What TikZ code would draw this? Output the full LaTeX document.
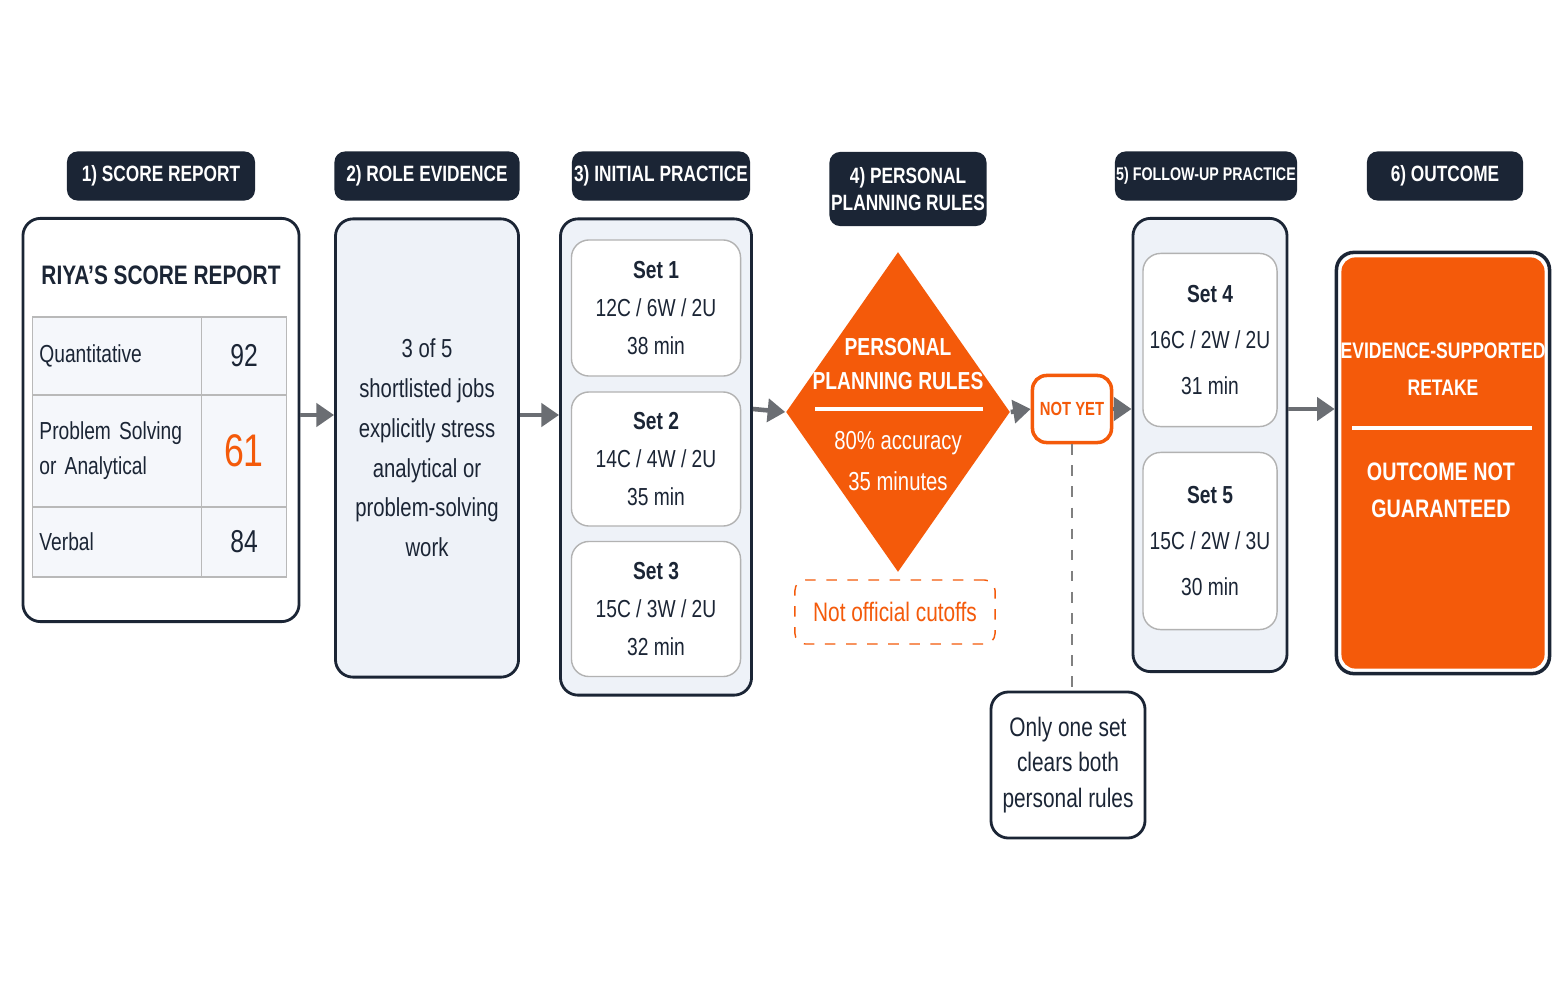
\documentclass[tikz,border=0pt]{standalone}
\usepackage{fontspec}
\setmainfont{Liberation Sans}[FakeStretch=0.78]
\usetikzlibrary{shapes,arrows,arrows.meta,positioning}
\definecolor{navy}{HTML}{1B2535}
\definecolor{hot}{HTML}{F45A0A}
\definecolor{pale}{HTML}{EEF2F8}
\definecolor{arr}{HTML}{6B6E73}
\begin{document}
\begin{tikzpicture}[x=0.01cm,y=-0.01cm]
	\tikzstyle{Tag}   = [rounded corners=3pt, fill=navy, text=white, font=\fontsize{6.3}{7.6}\selectfont\bfseries, align=center, inner sep=0pt, minimum height=0.49cm]
	\tikzstyle{Panel} = [rounded corners=5pt, draw=navy, line width=0.8pt, inner sep=0pt]
	\tikzstyle{Card}  = [rounded corners=5pt, draw=gray!60, fill=white, inner sep=0pt, align=center, font=\fontsize{7}{10.8}\selectfont, text=navy]
	\tikzstyle{Cell}  = [draw=gray!55, fill=pale!60, inner sep=0pt, align=left, font=\fontsize{7}{10}\selectfont, text=navy]
	\tikzstyle{Step}  = [-{Triangle[length=5pt,width=6.5pt]}, line width=1.3pt, arr]
	\useasboundingbox (0,0) rectangle (1563,1006);
	\fill[white] (0,0) rectangle (1563,1006);

	% header tags
	\node (t1) at (161,176) [Tag, minimum width=1.88cm] {1) SCORE REPORT};
	\node (t2) at (427,176) [Tag, minimum width=1.85cm] {2) ROLE EVIDENCE};
	\node (t3) at (661,176) [Tag, minimum width=1.78cm] {3) INITIAL PRACTICE};
	\node (t4) at (908,189) [Tag, minimum width=1.57cm, minimum height=0.74cm] {4) PERSONAL\\PLANNING RULES};
	\node (t5) at (1206,176) [Tag, minimum width=1.82cm, font=\fontsize{5.2}{7}\selectfont\bfseries] {5) FOLLOW-UP PRACTICE};
	\node (t6) at (1445,176) [Tag, minimum width=1.56cm] {6) OUTCOME};

	% score report
	\node (b1) at (161,420) [Panel, fill=white, minimum width=2.76cm, minimum height=4.03cm] {};
	\node (title) at (161,275) [text=navy, font=\fontsize{7.6}{9}\selectfont\bfseries] {RIYA'S SCORE REPORT};
	\node (q)  at (117,356) [Cell, minimum width=1.69cm, minimum height=0.78cm, text width=1.55cm] {Quantitative};
	\node (qv) at (244,356) [Cell, minimum width=0.85cm, minimum height=0.78cm, align=center, font=\fontsize{9}{11}\selectfont] {92};
	\node (p)  at (117,451) [Cell, minimum width=1.69cm, minimum height=1.12cm, text width=1.55cm] {Problem Solving\\or Analytical};
	\node (pv) at (244,451) [Cell, minimum width=0.85cm, minimum height=1.12cm, align=center, text=hot, font=\fontsize{13}{15}\selectfont] {61};
	\node (v)  at (117,542) [Cell, minimum width=1.69cm, minimum height=0.70cm, text width=1.55cm] {Verbal};
	\node (vv) at (244,542) [Cell, minimum width=0.85cm, minimum height=0.70cm, align=center, font=\fontsize{9}{11}\selectfont] {84};

	% role evidence
	\node (b2) at (427,448) [Panel, fill=pale, minimum width=1.83cm, minimum height=4.58cm, align=center, text=navy, font=\fontsize{7.4}{11.3}\selectfont] {3 of 5\\shortlisted jobs\\explicitly stress\\analytical or\\problem-solving\\work};

	% initial practice
	\node (b3) at (656,457) [Panel, fill=pale, minimum width=1.91cm, minimum height=4.76cm] {};
	\node (s1) at (656,308) [Card, minimum width=1.69cm, minimum height=1.36cm] {\textbf{Set 1}\\12C / 6W / 2U\\38 min};
	\node (s2) at (656,459) [Card, minimum width=1.69cm, minimum height=1.34cm] {\textbf{Set 2}\\14C / 4W / 2U\\35 min};
	\node (s3) at (656,609) [Card, minimum width=1.69cm, minimum height=1.35cm] {\textbf{Set 3}\\15C / 3W / 2U\\32 min};

	% planning rules
	\node (rule) at (898,412) [diamond, fill=hot, minimum width=2.24cm, minimum height=3.2cm, inner sep=0pt] {};
	\node (r1) at (898,364) [text=white, align=center, font=\fontsize{7}{9.6}\selectfont\bfseries] {PERSONAL\\PLANNING RULES};
	\draw[white, line width=1.2pt] (815,409) -- (983,409);
	\node (r2) at (898,461) [text=white, align=center, font=\fontsize{7.4}{11.5}\selectfont] {80\% accuracy\\35 minutes};
	\node (cut) at (895,612) [draw=hot, dashed, rounded corners=3pt, minimum width=2cm, minimum height=0.64cm, text=hot, font=\fontsize{7.6}{9}\selectfont] {Not official cutoffs};

	% not yet
	\node (ny) at (1072,409) [draw=hot, fill=white, line width=1pt, rounded corners=4pt, minimum width=0.79cm, minimum height=0.67cm, inner sep=0pt, text=hot, font=\fontsize{5.4}{7}\selectfont\bfseries] {NOT YET};
	\node (one) at (1068,765) [Panel, fill=white, minimum width=1.54cm, minimum height=1.46cm, align=center, text=navy, font=\fontsize{7.6}{10}\selectfont] {Only one set\\clears both\\personal rules};
	\draw[gray, dashed] (ny) -- (ny |- one.north);

	% follow-up practice
	\node (b5) at (1210,445) [Panel, fill=pale, minimum width=1.54cm, minimum height=4.53cm] {};
	\node (s4) at (1210,340) [Card, minimum width=1.34cm, minimum height=1.73cm, font=\fontsize{7}{13}\selectfont] {\textbf{Set 4}\\16C / 2W / 2U\\31 min};
	\node (s5) at (1210,541) [Card, minimum width=1.34cm, minimum height=1.77cm, font=\fontsize{7}{13}\selectfont] {\textbf{Set 5}\\15C / 2W / 3U\\30 min};

	% outcome
	\node (b6) at (1443,463) [Panel, fill=white, line width=1pt, minimum width=2.13cm, minimum height=4.21cm] {};
	\node (o)  at (1443,463) [rounded corners=4pt, fill=hot, minimum width=2.03cm, minimum height=4.11cm, inner sep=0pt] {};
	\node (o1) at (1443,369) [text=white, align=center, font=\fontsize{6.4}{10.6}\selectfont\bfseries] {EVIDENCE-SUPPORTED\\RETAKE};
	\draw[white, line width=1.2pt] (1352,428) -- (1532,428);
	\node (o2) at (1441,490) [text=white, align=center, font=\fontsize{7.2}{10.6}\selectfont\bfseries] {OUTCOME NOT\\GUARANTEED};

	% flow
	\draw[Step] (b1.east |- 0,415) -- (b2.west |- 0,415);
	\draw[Step] (b2.east |- 0,415) -- (b3.west |- 0,415);
	\draw[Step] (b3.east |- ny) -- (rule.west);
	\draw[Step] (rule.east) -- (ny.west);
	\draw[Step] (ny.east) -- (b5.west |- ny);
	\draw[Step] (b5.east |- ny) -- (b6.west |- ny);
\end{tikzpicture}
\end{document}
